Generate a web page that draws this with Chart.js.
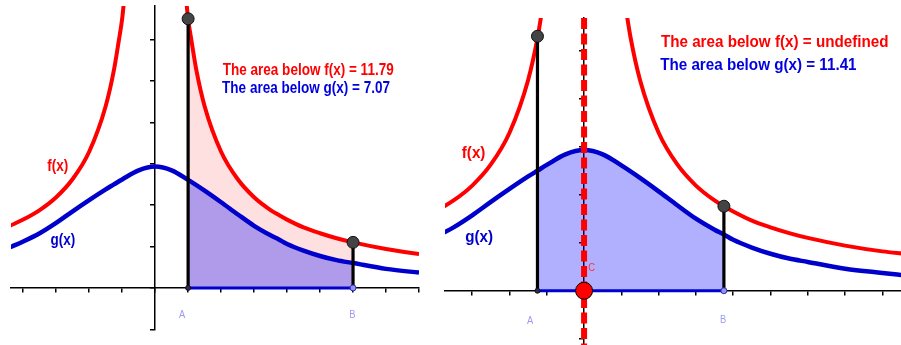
<!DOCTYPE html>
<html>
<head>
<meta charset="utf-8">
<script src="https://cdn.jsdelivr.net/npm/chart.js@4.4.1/dist/chart.umd.min.js"></script>
<style>
  html, body { margin: 0; padding: 0; background: #fff; overflow: hidden; }
  #left { position: absolute; left: 0; top: 0; }
  #right { position: absolute; left: 430px; top: 0; }
</style>
</head>
<body>
<canvas id="left" width="430" height="345"></canvas>
<canvas id="right" width="471" height="345"></canvas>
<script>
// the same two curves are drawn in both panels
const fX = [-4.4, -4, -3.5, -3, -2.5, -2, -1.5, -1.25, -1.1, -1, -0.9, -0.8, 0, 0.8, 0.9, 1, 1.1, 1.25, 1.5, 2, 2.5, 3, 3.5, 3.75, 4, 4.5, 5, 5.5, 6, 7, 8, 8.6]
const fY = [1.50, 1.65, 1.88, 2.19, 2.63, 3.29, 4.39, 5.26, 5.98, 6.5, 7.31, 8.2, null, 8.2, 7.31, 6.5, 5.98, 5.26, 4.39, 3.29, 2.63, 2.19, 1.88, 1.76, 1.65, 1.46, 1.32, 1.2, 1.1, 0.94, 0.82, 0.77]
const gX = [-4.4, -4, -3.5, -3, -2.5, -2, -1.5, -1.25, -1, -0.5, 0, 0.5, 1, 1.5, 2, 2.5, 3, 3.5, 3.75, 4, 4.5, 5, 5.5, 6, 7, 8, 8.6]
const gY = [0.98, 1.12, 1.32, 1.57, 1.85, 2.12, 2.38, 2.5, 2.62, 2.84, 2.93, 2.84, 2.61, 2.35, 2.07, 1.78, 1.5, 1.27, 1.17, 1.06, 0.9, 0.77, 0.67, 0.6, 0.46, 0.37, 0.32]

// bounds A, B and f at the bounds
const leftBounds = [1, 6]
const leftTop = [6.5, 1.1]
const rightBounds = [-1.25, 3.75]
const rightTop = [5.3, 1.76]
const rightC = 0

const curveNames = ['f(x)', 'g(x)']
const pointNames = ['A', 'B', 'C']
const leftTexts = ['The area below f(x) = 11.79', 'The area below g(x) = 7.07']
const rightTexts = ['The area below f(x) = undefined', 'The area below g(x) = 11.41']

const RED = '#ff0000'
const BLUE = '#0000cc'
const BIG = 'bold 16px "Liberation Sans", Arial, sans-serif'
const SMALL = '11px "Liberation Sans", Arial, sans-serif'

function pts(xs, ys) { return xs.map((x, i) => ({ x, y: ys[i] })) }
function between(xs, ys, a, b) { return pts(xs, ys).filter(p => p.x >= a && p.x <= b) }

function textPlugin(items) {
  return {
    id: 'texts',
    afterDatasetsDraw(chart) {
      const { ctx, scales } = chart
      items.forEach(t => {
        ctx.save()
        ctx.font = t.font
        ctx.fillStyle = t.color
        ctx.textAlign = t.align || 'left'
        ctx.textBaseline = 'alphabetic'
        ctx.translate(scales.x.getPixelForValue(t.x), scales.y.getPixelForValue(t.y))
        ctx.scale(t.sx, 1)
        ctx.fillText(t.text, 0, 0)
        ctx.restore()
      })
    }
  }
}

function axis(min, max, pos) {
  return {
    type: 'linear', min, max, position: pos,
    ticks: { display: false, stepSize: 1, includeBounds: false },
    grid: { drawOnChartArea: false, drawTicks: true, tickLength: 4, color: '#000', lineWidth: 1.5 },
    border: { display: true, color: '#000', width: 1.5 }
  }
}

function makeChart(id, o) {
  const [a, b] = o.bounds
  const ds = []
  if (o.c !== undefined) {
    ds.push({ data: [{ x: o.c, y: 0 }], showLine: false, pointRadius: 8.5,
      pointBackgroundColor: RED, pointBorderColor: '#000', pointBorderWidth: 1 })
  }
  ds.push({ data: [{ x: a, y: o.top[0] }, { x: b, y: o.top[1] }], showLine: false, pointRadius: 6,
    pointBackgroundColor: '#444', pointBorderColor: '#111', pointBorderWidth: 1 })
  ds.push({ data: [{ x: a, y: 0 }, { x: b, y: 0 }], showLine: false, pointRadius: [2.5, 3],
    pointBackgroundColor: ['#2a2a55', '#9090ff'], pointBorderColor: ['#111', '#3030a0'], pointBorderWidth: 1 })
  if (o.c !== undefined) {
    ds.push({ data: [{ x: o.c, y: o.y[1] }, { x: o.c, y: o.y[0] }], borderColor: RED, borderWidth: 6,
      borderDash: [11, 4.5], pointRadius: 0 })
  }
  ds.push({ data: [{ x: a, y: 0 }, { x: a, y: o.top[0] }], borderColor: '#000', borderWidth: 3.2, pointRadius: 0 })
  ds.push({ data: [{ x: b, y: 0 }, { x: b, y: o.top[1] }], borderColor: '#000', borderWidth: 3.2, pointRadius: 0 })
  ds.push({ data: [{ x: a, y: 0 }, { x: b, y: 0 }], borderColor: BLUE, borderWidth: 3, pointRadius: 0 })
  ds.push({ data: pts(gX, gY), borderColor: BLUE, borderWidth: 4.5, pointRadius: 0, cubicInterpolationMode: 'monotone', clip: 0 })
  ds.push({ data: pts(fX, fY), borderColor: RED, borderWidth: 4, pointRadius: 0, cubicInterpolationMode: 'monotone', clip: 0 })
  ds.push({ data: between(gX, gY, a, b), fill: 'origin', backgroundColor: 'rgba(0,0,255,0.31)',
    borderColor: 'rgba(0,0,0,0)', borderWidth: 0, pointRadius: 0, cubicInterpolationMode: 'monotone', clip: 0 })
  if (o.fillF) {
    ds.push({ data: between(fX, fY, a, b), fill: 'origin', backgroundColor: 'rgba(255,0,0,0.12)',
      borderColor: 'rgba(0,0,0,0)', borderWidth: 0, pointRadius: 0, cubicInterpolationMode: 'monotone', clip: 0 })
  }

  return new Chart(document.getElementById(id), {
    type: 'line',
    data: { datasets: ds },
    options: {
      responsive: false,
      animation: false,
      spanGaps: false,
      elements: { line: { capBezierPoints: false } },
      layout: { autoPadding: false, padding: o.padding },
      plugins: { legend: { display: false }, tooltip: { enabled: false } },
      scales: { x: axis(o.x[0], o.x[1], { y: 0 }), y: axis(o.y[0], o.y[1], { x: 0 }) }
    },
    plugins: [textPlugin(o.texts)]
  })
}

const L = 0.845, R = 0.95
makeChart('left', {
  bounds: leftBounds, top: leftTop, fillF: true,
  x: [-4.37, 8], y: [-1, 6.81],
  padding: { left: 11, right: 11, top: 6, bottom: 15.7 },
  texts: [
    { text: leftTexts[0], x: 2.05, y: 5.14, color: RED, font: BIG, sx: L },
    { text: leftTexts[1], x: 2.03, y: 4.70, color: '#0000e0', font: BIG, sx: L },
    { text: curveNames[0], x: -3.27, y: 2.83, color: RED, font: BIG, sx: L },
    { text: curveNames[1], x: -3.17, y: 1.03, color: BLUE, font: BIG, sx: L },
    { text: pointNames[0], x: 0.82, y: -0.72, color: '#9a9af0', font: SMALL, sx: 0.85, align: 'center' },
    { text: pointNames[1], x: 5.98, y: -0.72, color: '#9a9af0', font: SMALL, sx: 0.85, align: 'center' }
  ]
})

makeChart('right', {
  bounds: rightBounds, top: rightTop, c: rightC,
  x: [-3.73, 8.5], y: [-1.13, 5.68],
  padding: { left: 15, right: 0, top: 18, bottom: 0 },
  texts: [
    { text: rightTexts[0], x: 2.06, y: 5.08, color: RED, font: BIG, sx: R },
    { text: rightTexts[1], x: 2.04, y: 4.60, color: '#0000e0', font: BIG, sx: R },
    { text: curveNames[0], x: -3.28, y: 2.76, color: RED, font: BIG, sx: R },
    { text: curveNames[1], x: -3.19, y: 1.02, color: BLUE, font: BIG, sx: R },
    { text: pointNames[0], x: -1.45, y: -0.69, color: '#9a9af0', font: SMALL, sx: 0.85, align: 'center' },
    { text: pointNames[1], x: 3.73, y: -0.68, color: '#9a9af0', font: SMALL, sx: 0.85, align: 'center' },
    { text: pointNames[2], x: 0.115, y: 0.42, color: '#ff3030', font: SMALL, sx: 0.85 }
  ]
})
</script>
</body>
</html>
